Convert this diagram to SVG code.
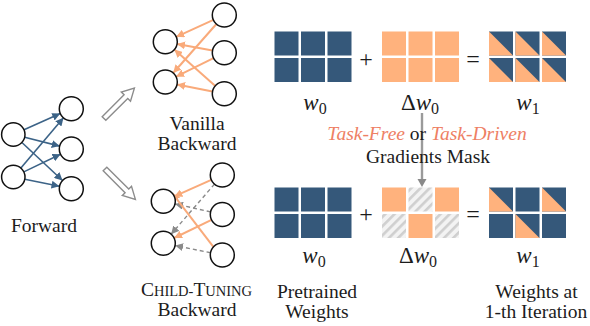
<svg xmlns="http://www.w3.org/2000/svg" width="590" height="326" viewBox="0 0 590 326">
<style>
.nd{fill:#fff;stroke:#111;stroke-width:1.5}
.fw{stroke:#3c6387;stroke-width:1.6;fill:none;marker-end:url(#mb)}
.bw{stroke:#f9aa7a;stroke-width:2;fill:none;marker-end:url(#mo)}
.dg{stroke:#8a8a8a;stroke-width:1.4;fill:none;stroke-dasharray:4 3;marker-end:url(#mg)}
.hol{fill:#fff;stroke:#8c8c8c;stroke-width:1.4}
.t{font-family:"Liberation Serif",serif;font-size:19.5px;fill:#1c1c1c;text-anchor:middle}
.m{font-family:"Liberation Serif",serif;font-size:23px;fill:#1c1c1c;text-anchor:middle}
.op{font-family:"Liberation Serif",serif;font-size:24px;fill:#1c1c1c;text-anchor:middle}
.b{fill:#35587a}
.o{fill:#ffb27d}
.h{fill:url(#hatch)}
.hl{fill:#ee8064;font-style:italic}
</style>
<defs>
<marker id="mb" markerUnits="userSpaceOnUse" markerWidth="9" markerHeight="8" refX="8" refY="4" orient="auto"><path d="M0,0 L8,4 L0,8 z" fill="#3c6387"/></marker>
<marker id="mo" markerUnits="userSpaceOnUse" markerWidth="9" markerHeight="8" refX="8" refY="4" orient="auto"><path d="M0,0 L8,4 L0,8 z" fill="#f9aa7a"/></marker>
<marker id="mg" markerUnits="userSpaceOnUse" markerWidth="9" markerHeight="8" refX="8" refY="4" orient="auto"><path d="M0,0 L8,4 L0,8 z" fill="#8a8a8a"/></marker>
<pattern id="hatch" patternUnits="userSpaceOnUse" width="6.5" height="6.5" patternTransform="rotate(45)">
<rect width="6.5" height="6.5" fill="#f3f3f3"/><rect width="2.6" height="6.5" fill="#cfcfcf"/>
</pattern>
<g id="mix"><rect width="24" height="24" class="b"/><polygon points="0,0 0,24 24,24" class="o"/></g>
<polygon id="harrow" points="0,-2.6 31,-2.6 31,-6.5 43,0 31,6.5 31,2.6 0,2.6"/>
</defs>

<g id="connectors">
<line class="fw" x1="24" y1="129.8" x2="60.3" y2="113.6"/>
<line class="fw" x1="24.7" y1="137.3" x2="59.7" y2="146.1"/>
<line class="fw" x1="21.9" y1="142.5" x2="62.5" y2="180.5"/>
<line class="fw" x1="20.9" y1="168.1" x2="63.5" y2="117.8"/>
<line class="fw" x1="23.8" y1="171.9" x2="60.5" y2="154.2"/>
<line class="fw" x1="24.8" y1="179.3" x2="59.5" y2="186.3"/>

<line class="bw" x1="213.4" y1="19.9" x2="176.2" y2="36.8"/>
<line class="bw" x1="212.5" y1="50.6" x2="177.1" y2="43.9"/>
<line class="bw" x1="215.3" y1="85.9" x2="174.3" y2="49.6"/>
<line class="bw" x1="216.4" y1="24" x2="173.2" y2="73"/>
<line class="bw" x1="213.5" y1="58.1" x2="176.1" y2="76.7"/>
<line class="bw" x1="212.5" y1="91.4" x2="177.1" y2="84.4"/>

<line class="dg" x1="214.5" y1="184.1" x2="171.1" y2="234.2"/>
<line class="dg" x1="210.6" y1="211.9" x2="175" y2="203.9"/>
<line class="dg" x1="210.5" y1="252.7" x2="175.1" y2="245.6"/>
<line class="bw" x1="211.3" y1="179.9" x2="174.3" y2="196.4"/>
<line class="bw" x1="213.4" y1="246.9" x2="172.2" y2="193.2"/>
<line class="bw" x1="211.5" y1="219.8" x2="174.1" y2="238"/>

<use href="#harrow" class="hol" transform="translate(104,118.5) rotate(-45)"/>
<use href="#harrow" class="hol" transform="translate(105,169) rotate(45)"/>

<line x1="422" y1="113" x2="422" y2="180" stroke="#9a9a9a" stroke-width="2.4"/>
<polygon points="417.5,179 426.5,179 422,187" fill="#8a8a8a"/>
</g>

<g id="forward">
<circle class="nd" cx="13.3" cy="134.5" r="11.7"/>
<circle class="nd" cx="13.3" cy="177" r="11.7"/>
<circle class="nd" cx="71.3" cy="108.7" r="12"/>
<circle class="nd" cx="71.3" cy="149" r="12"/>
<circle class="nd" cx="71.3" cy="188.7" r="12"/>
<text class="t" x="44" y="232">Forward</text>
</g>

<g id="vanilla">
<circle class="nd" cx="165.3" cy="41.7" r="12"/>
<circle class="nd" cx="165.3" cy="82" r="12"/>
<circle class="nd" cx="224.3" cy="15" r="12"/>
<circle class="nd" cx="224.3" cy="52.8" r="12"/>
<circle class="nd" cx="224.3" cy="93.8" r="12"/>
<text class="t" x="197" y="130">Vanilla</text>
<text class="t" x="197" y="150">Backward</text>
</g>

<g id="child">
<circle class="nd" cx="163.3" cy="201.3" r="12"/>
<circle class="nd" cx="163.3" cy="243.3" r="12"/>
<circle class="nd" cx="222.3" cy="175" r="12"/>
<circle class="nd" cx="222.3" cy="214.5" r="12"/>
<circle class="nd" cx="222.3" cy="255" r="12"/>
<text class="t" x="196.5" y="296">C<tspan font-size="14.5px">HILD-</tspan>T<tspan font-size="14.5px">UNING</tspan></text>
<text class="t" x="197" y="316">Backward</text>
</g>

<g id="w0-top">
<rect class="b" x="274.5" y="31.5" width="24" height="24"/>
<rect class="b" x="301" y="31.5" width="24" height="24"/>
<rect class="b" x="327.5" y="31.5" width="24" height="24"/>
<rect class="b" x="274.5" y="58" width="24" height="24"/>
<rect class="b" x="301" y="58" width="24" height="24"/>
<rect class="b" x="327.5" y="58" width="24" height="24"/>
<text class="m" x="315" y="110"><tspan font-style="italic">w</tspan><tspan font-size="16px" dy="4">0</tspan></text>
</g>

<g id="dw0-top">
<rect class="o" x="382" y="31.5" width="24" height="24"/>
<rect class="o" x="408.5" y="31.5" width="24" height="24"/>
<rect class="o" x="435" y="31.5" width="24" height="24"/>
<rect class="o" x="382" y="58" width="24" height="24"/>
<rect class="o" x="408.5" y="58" width="24" height="24"/>
<rect class="o" x="435" y="58" width="24" height="24"/>
<text class="m" x="420" y="110">Δ<tspan font-style="italic">w</tspan><tspan font-size="16px" dy="4">0</tspan></text>
</g>

<g id="w1-top">
<use href="#mix" x="489" y="31.5"/>
<use href="#mix" x="515.5" y="31.5"/>
<use href="#mix" x="542" y="31.5"/>
<use href="#mix" x="489" y="58"/>
<use href="#mix" x="515.5" y="58"/>
<use href="#mix" x="542" y="58"/>
<text class="m" x="528" y="110"><tspan font-style="italic">w</tspan><tspan font-size="16px" dy="4">1</tspan></text>
</g>

<g id="ops">
<text class="op" x="366" y="67">+</text>
<text class="op" x="473" y="67">=</text>
<text class="op" x="366" y="222">+</text>
<text class="op" x="473" y="222">=</text>
</g>

<g id="mask-label">
<text class="t" x="427" y="140"><tspan class="hl">Task-Free</tspan> or <tspan class="hl">Task-Driven</tspan></text>
<text class="t" x="428" y="163">Gradients Mask</text>
</g>

<g id="w0-bottom">
<rect class="b" x="274.5" y="187.5" width="24" height="24"/>
<rect class="b" x="301" y="187.5" width="24" height="24"/>
<rect class="b" x="327.5" y="187.5" width="24" height="24"/>
<rect class="b" x="274.5" y="214" width="24" height="24"/>
<rect class="b" x="301" y="214" width="24" height="24"/>
<rect class="b" x="327.5" y="214" width="24" height="24"/>
<text class="m" x="314" y="263"><tspan font-style="italic">w</tspan><tspan font-size="16px" dy="4">0</tspan></text>
<text class="t" x="317" y="298">Pretrained</text>
<text class="t" x="317" y="318">Weights</text>
</g>

<g id="dw0-bottom">
<rect class="o" x="382" y="187.5" width="24" height="24"/>
<rect class="h" x="408.5" y="187.5" width="24" height="24"/>
<rect class="o" x="435" y="187.5" width="24" height="24"/>
<rect class="h" x="382" y="214" width="24" height="24"/>
<rect class="o" x="408.5" y="214" width="24" height="24"/>
<rect class="h" x="435" y="214" width="24" height="24"/>
<text class="m" x="418" y="263">Δ<tspan font-style="italic">w</tspan><tspan font-size="16px" dy="4">0</tspan></text>
</g>

<g id="w1-bottom">
<use href="#mix" x="489" y="187.5"/>
<rect class="b" x="515.5" y="187.5" width="24" height="24"/>
<use href="#mix" x="542" y="187.5"/>
<rect class="b" x="489" y="214" width="24" height="24"/>
<use href="#mix" x="515.5" y="214"/>
<rect class="b" x="542" y="214" width="24" height="24"/>
<text class="m" x="528" y="263"><tspan font-style="italic">w</tspan><tspan font-size="16px" dy="4">1</tspan></text>
<text class="t" x="536.5" y="298">Weights at</text>
<text class="t" x="536" y="318">1-th Iteration</text>
</g>
</svg>
